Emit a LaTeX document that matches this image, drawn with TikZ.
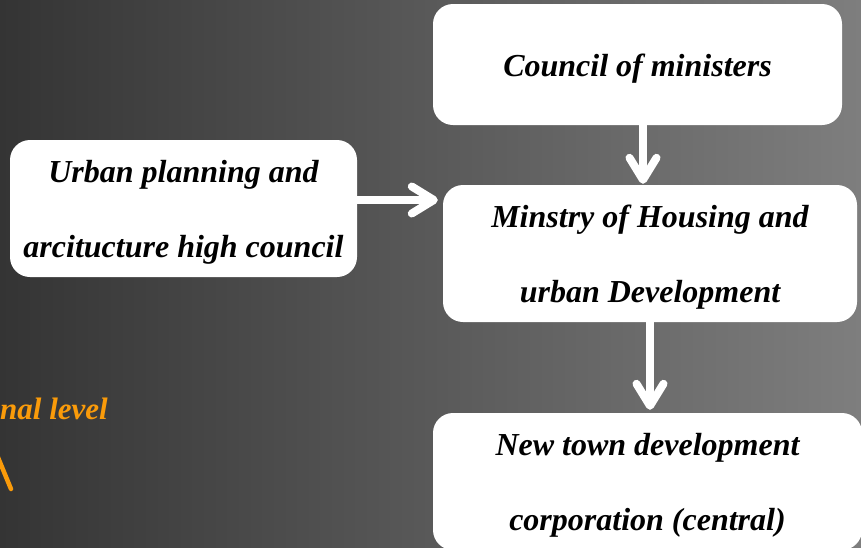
\documentclass[tikz,border=0pt]{standalone}
\usepackage{fontspec}
\setmainfont{Liberation Serif}
\usetikzlibrary{arrows.meta}
\definecolor{bgdark}{RGB}{52,52,52}
\definecolor{bgmid}{RGB}{104,104,104}
\definecolor{bglight}{RGB}{126,126,126}
\definecolor{levelorange}{RGB}{250,155,10}
\newcommand{\topstrut}{\rule{0pt}{30pt}}
\newcommand{\botstrut}{\rule[-6pt]{0pt}{6pt}}
\begin{document}
\begin{tikzpicture}[x=1pt,y=-1pt,
        box/.style={fill=white, rounded corners=20pt, inner sep=0pt, align=center, font=\fontsize{32}{75}\selectfont\bfseries\itshape},
        flow/.style={draw=white, line width=8pt, -{Straight Barb[length=22pt,width=27pt,round]}}]
        \useasboundingbox (0,0) rectangle (861,547);
        \clip (0,0) rectangle (861,547);
        \shade[left color=bgdark, middle color=bgmid, right color=bglight] (0,0) rectangle (861,547);

        \pgfmathsetmacro{\boxh}{137}

        \node[box, minimum width=409pt, minimum height=121pt] (council) at (637.5,64.5) {\topstrut Council of ministers\botstrut};
        \node[box, minimum width=347pt, minimum height=\boxh pt] (urban) at (183.5,208.5) {\topstrut Urban planning and\\arcitucture high council\botstrut};
        \node[box, minimum width=414pt, minimum height=\boxh pt] (ministry) at (650,253.5) {\topstrut Minstry of Housing and\\urban Development\botstrut};
        \node[box, minimum width=429pt, minimum height=\boxh pt] (newtown) at (647.5,481.5) {\topstrut New town development\\corporation (central)\botstrut};

        \draw[flow, shorten >=5pt] ([yshift=8.5pt]urban.east) -- ([yshift=8.5pt]urban.east -| ministry.west);
        \draw[flow, shorten >=1pt] ([xshift=5.5pt]council.south) -- ([xshift=5.5pt]council.south |- ministry.north);
        \draw[flow, shorten >=3pt] (ministry.south) -- (ministry.south |- newtown.north);

        % the level label runs off the left edge
        \node[text=levelorange, font=\fontsize{31}{36}\selectfont\bfseries\itshape, anchor=base east, inner sep=0pt] (level) at (108,419) {nal level};
        \draw[levelorange, line width=4.5pt, line cap=round] (-3,455) -- (11,489);
    \end{tikzpicture}
\end{document}
